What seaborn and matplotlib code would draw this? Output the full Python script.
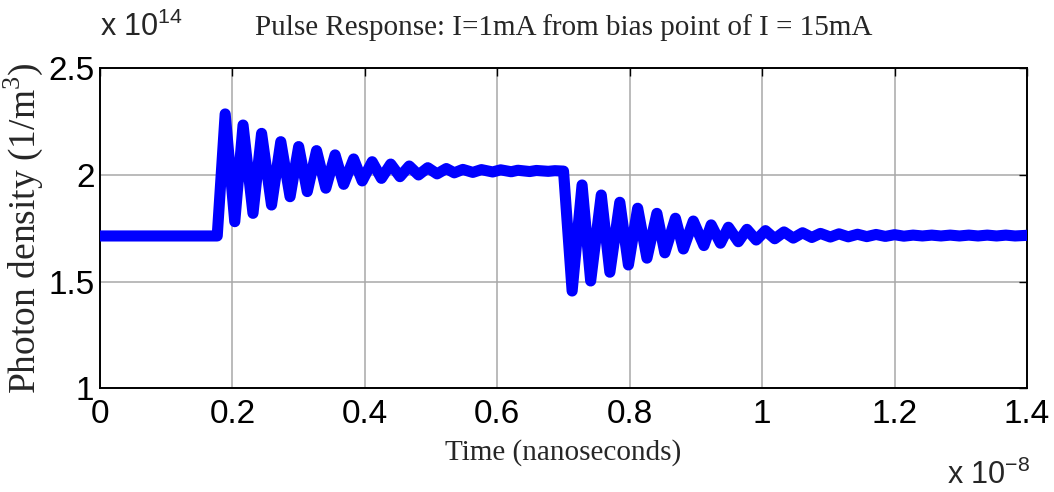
import matplotlib
matplotlib.use("Agg")
import matplotlib.pyplot as plt
import seaborn as sns
import pandas as pd

sns.set_style("whitegrid")
plt.rcParams['font.family'] = ['Liberation Sans Narrow', 'Liberation Sans', 'DejaVu Sans']

# time in units of 1e-8 s, photon density in units of 1e14 1/m^3
time_pts = [0.000, 0.177, 0.189, 0.2035, 0.216, 0.231, 0.244, 0.259, 0.273, 0.287,
            0.300, 0.313, 0.327, 0.341, 0.355, 0.368, 0.383, 0.396, 0.411, 0.425,
            0.439, 0.453, 0.467, 0.481, 0.495, 0.509, 0.523, 0.535, 0.548, 0.563,
            0.576, 0.593, 0.605, 0.621, 0.631, 0.649, 0.659, 0.677, 0.687, 0.700,
            0.713, 0.728, 0.741, 0.757, 0.770, 0.785, 0.798, 0.812, 0.826, 0.841,
            0.853, 0.869, 0.881, 0.896, 0.912, 0.923, 0.937, 0.949, 0.964, 0.977,
            0.991, 1.005, 1.019, 1.033, 1.047, 1.061, 1.075, 1.088, 1.103, 1.116,
            1.130, 1.144, 1.158, 1.172, 1.186, 1.200, 1.214, 1.228, 1.242, 1.256,
            1.270, 1.284, 1.298, 1.312, 1.326, 1.340, 1.354, 1.368, 1.382, 1.400]
density = [1.714, 1.714, 2.286, 1.781, 2.234, 1.820, 2.195, 1.859, 2.156, 1.898,
           2.133, 1.922, 2.114, 1.938, 2.094, 1.956, 2.075, 1.972, 2.062, 1.984,
           2.051, 1.992, 2.042, 2.000, 2.034, 2.005, 2.030, 2.010, 2.026, 2.012,
           2.025, 2.014, 2.024, 2.015, 2.022, 2.016, 2.021, 2.017, 2.020, 2.018,
           1.456, 1.953, 1.503, 1.906, 1.544, 1.872, 1.578, 1.844, 1.610, 1.820,
           1.635, 1.797, 1.653, 1.784, 1.669, 1.766, 1.680, 1.755, 1.687, 1.745,
           1.695, 1.739, 1.701, 1.733, 1.704, 1.729, 1.707, 1.726, 1.709, 1.724,
           1.710, 1.722, 1.711, 1.721, 1.712, 1.720, 1.713, 1.718, 1.714, 1.718,
           1.714, 1.718, 1.714, 1.718, 1.714, 1.718, 1.714, 1.718, 1.714, 1.717]

x_ticks = [0, 0.2, 0.4, 0.6, 0.8, 1.0, 1.2, 1.4]
x_labels = ['0', '0.2', '0.4', '0.6', '0.8', '1', '1.2', '1.4']
y_ticks = [1, 1.5, 2, 2.5]
y_labels = ['1', '1.5', '2', '2.5']

df = pd.DataFrame({'t': time_pts, 'n': density})

fig = plt.figure(figsize=(10.54, 4.92), dpi=100)
ax = fig.add_axes([0.0949, 0.2108, 0.8795, 0.6504])

sns.lineplot(data=df, x='t', y='n', sort=False, color='#0000ff', linewidth=8,
             solid_joinstyle='round', ax=ax, zorder=3)

ax.set_xlim(0, 1.4)
ax.set_ylim(1, 2.5)
ax.set_xticks(x_ticks)
ax.set_xticklabels(x_labels)
ax.set_yticks(y_ticks)
ax.set_yticklabels(y_labels)
ax.tick_params(direction='in', length=6, width=1, top=True, right=True,
               labelsize=24, pad=4, colors='black')
ax.tick_params(axis='x', pad=8)
ax.grid(True, color='#a8a8a8', linewidth=1.1, linestyle='-')
for s in ax.spines.values():
    s.set_color('black')
    s.set_linewidth(1.4)

serif = ['Liberation Serif', 'DejaVu Serif']
ax.set_title('Pulse Response: I=1mA from bias point of I = 15mA', family=serif,
             fontsize=21, pad=24)
ax.set_xlabel('Time (nanoseconds)', family=serif, fontsize=21, labelpad=6)
ax.set_ylabel(r'Photon density (1/m$^{\mathregular{3}}$)', family=serif,
              fontsize=27, labelpad=2)

fig.text(100 / 1054, 1 - 36 / 492, r'x 10$^{\mathregular{14}}$', fontsize=22,
         ha='left', va='baseline')
fig.text(1030 / 1054, 1 - 484 / 492, r'x 10$^{\mathregular{-8}}$', fontsize=22,
         ha='right', va='baseline')

fig.savefig('out.png', dpi=100, facecolor='white')
